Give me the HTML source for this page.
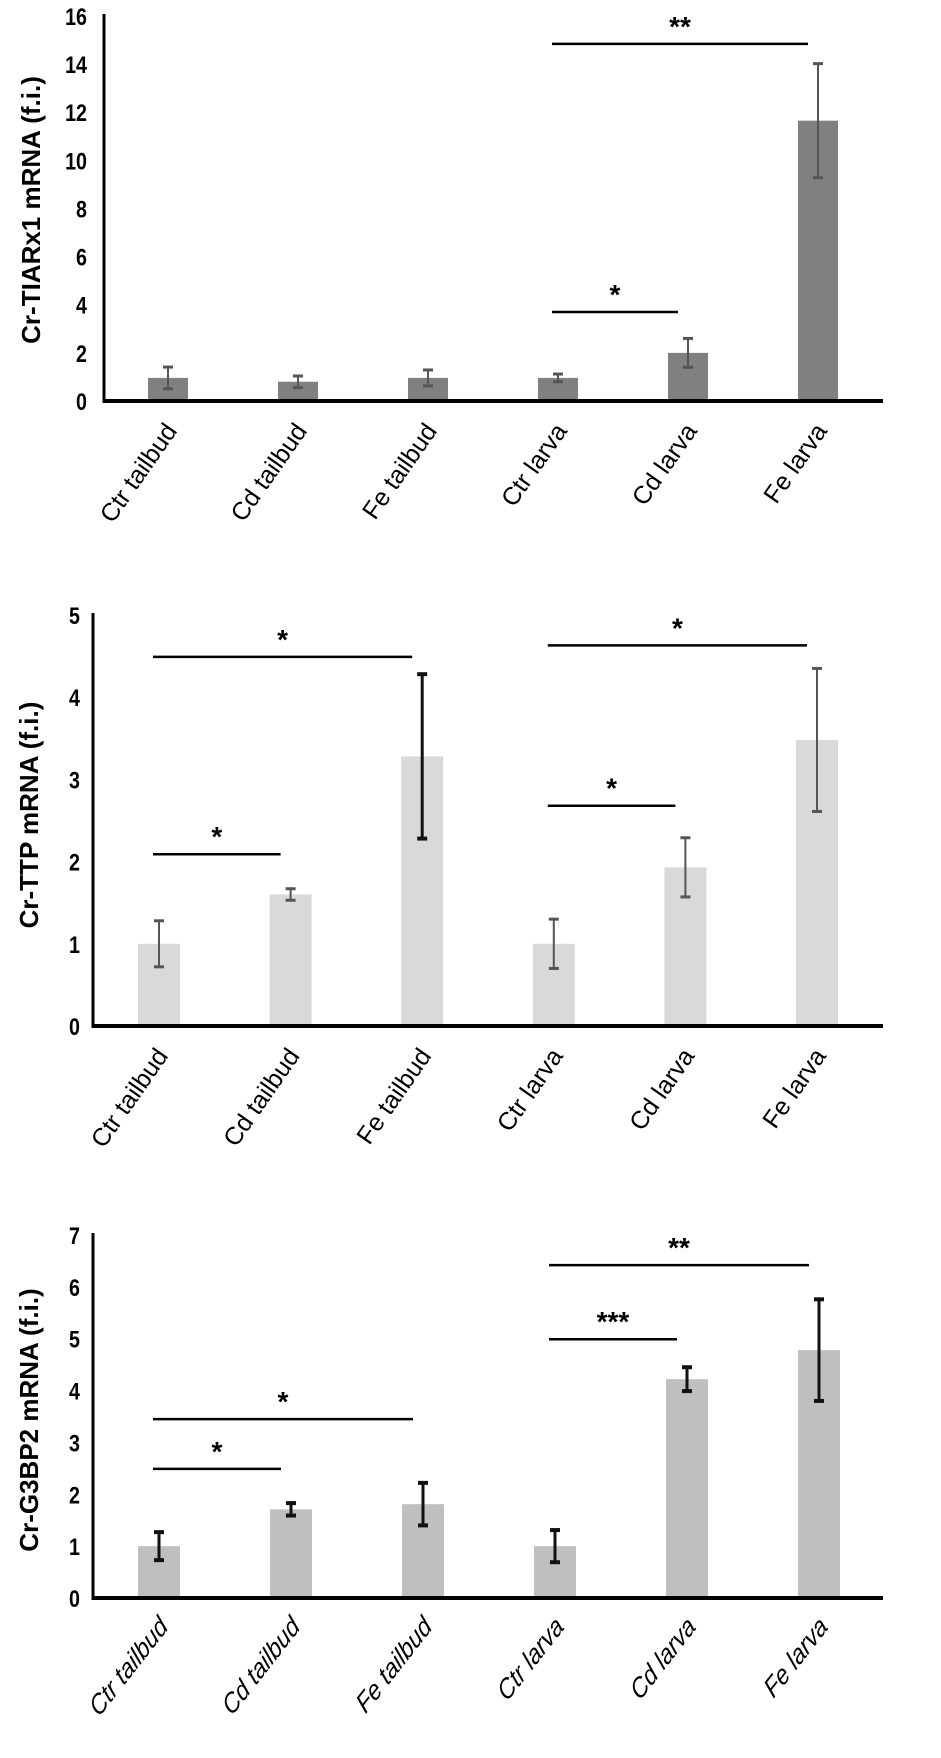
<!DOCTYPE html>
<html><head><meta charset="utf-8"><style>
html,body{margin:0;padding:0;background:#fff;}
svg{display:block;}
text{font-family:"Liberation Sans",sans-serif;}
.tick{font-weight:bold;font-size:24px;}
.ytitle{font-weight:bold;font-size:26px;}
.xl{font-size:25px;}
.star{font-size:28px;font-weight:bold;}
</style></head><body>
<svg id="chart" width="941" height="1758" viewBox="0 0 941 1758" xmlns="http://www.w3.org/2000/svg"></svg>
<script>
const categories = ["Ctr tailbud","Cd tailbud","Fe tailbud","Ctr larva","Cd larva","Fe larva"];
const tiarValues = [0.96, 0.8, 0.96, 0.96, 2.0, 11.65];
const tiarErrors = [0.45, 0.24, 0.33, 0.16, 0.6, 2.37];
const tiarTicks = [0,2,4,6,8,10,12,14,16];
const tiarSig = [[3,5,14.84,"**"],[3,4,3.7,"*"]];
const ttpValues = [1.0, 1.6, 3.28, 1.0, 1.93, 3.48];
const ttpErrors = [0.28, 0.07, 1.0, 0.3, 0.36, 0.87];
const ttpTicks = [0,1,2,3,4,5];
const ttpSig = [[0,2,4.49,"*"],[0,1,2.09,"*"],[3,5,4.63,"*"],[3,4,2.68,"*"]];
const g3Values = [1.0, 1.71, 1.81, 1.0, 4.22, 4.78];
const g3Errors = [0.27, 0.12, 0.41, 0.31, 0.23, 0.98];
const g3Ticks = [0,1,2,3,4,5,6,7];
const g3Sig = [[0,2,3.45,"*"],[0,1,2.49,"*"],[3,5,6.42,"**"],[3,4,4.99,"***"]];

const NS="http://www.w3.org/2000/svg";
const svg=document.getElementById('chart');
function mk(tag,attrs,parent){const e=document.createElementNS(NS,tag);for(const k in attrs)e.setAttribute(k,attrs[k]);(parent||svg).appendChild(e);return e;}

function drawPanel(p){
  const g=mk('g',{});
  
  
  const y=v=>p.y0-(v/p.max)*(p.y0-p.yTop);
  const x=i=>p.x0+i*p.step;
  p.values.forEach((v,i)=>{
    const r=mk('rect',{x:x(i)-p.bw/2,y:y(v),width:p.bw,height:p.y0-y(v),fill:p.color},g);
    
    
  });
  p.values.forEach((v,i)=>{
    const e=p.errors[i];
    const thick=p.thickErr.includes(i);
    const col=thick?'#111':'#555';
    const sw=thick?3:2;
    const eg=mk('g',{stroke:col,'stroke-width':sw},g);
    
    
    mk('line',{x1:x(i),x2:x(i),y1:y(v+e),y2:y(v-e)},eg);
    mk('line',{x1:x(i)-5,x2:x(i)+5,y1:y(v+e),y2:y(v+e),'stroke-width':thick?4:3},eg);
    mk('line',{x1:x(i)-5,x2:x(i)+5,y1:y(v-e),y2:y(v-e),'stroke-width':thick?4:3},eg);
  });
  const ya=mk('line',{x1:p.axX,x2:p.axX,y1:p.yTop-2,y2:p.y0+2,stroke:'#000','stroke-width':3},g);
  
  
  const xa=mk('line',{x1:p.axX-1,x2:883,y1:p.y0,y2:p.y0,stroke:'#000','stroke-width':4},g);
  
  
  p.ticks.forEach(t=>{
    const tx=mk('text',{x:p.tickX,y:y(t)+9,'text-anchor':'end',class:'tick',transform:`translate(${p.tickX},0) scale(0.82,1) translate(${-p.tickX},0)`},g);
    tx.textContent=t;
    
    
  });
  const tt=mk('text',{x:0,y:0,'text-anchor':'middle',class:'ytitle',transform:`translate(${p.titleX},${p.titleY}) rotate(-90)`},g);
  tt.textContent=p.title;
  
  
  categories.forEach((c,i)=>{
    const ax=x(i)+10, ay=p.y0+30;
    const t=mk('text',{x:0,y:0,'text-anchor':'end',class:'xl',transform:`translate(${ax},${ay}) rotate(${p.rot})`+(p.italic?' skewX(-12)':''),'font-style':p.italic?'italic':'normal'},g);
    t.textContent=c;
    
    
  });
  p.sig.forEach(s=>{
    const x1=x(s[0])-6, x2=x(s[1])-10, yy=y(s[2]);
    const l=mk('line',{x1:x1,x2:x2,y1:yy,y2:yy,stroke:'#000','stroke-width':2.5},g);
    
    
    const st=mk('text',{x:(x1+x2)/2,y:yy-8,'text-anchor':'middle',class:'star'},g);
    st.textContent=s[3];
    
    
  });
}
drawPanel({name:'tiarx1-chart',values:tiarValues,errors:tiarErrors,ticks:tiarTicks,sig:tiarSig,max:16,
  y0:401,yTop:16,x0:168,step:130,bw:40,axX:104,tickX:87,color:'#808080',thickErr:[],
  title:'Cr-TIARx1 mRNA (f.i.)',titleX:40,titleY:210,rot:-55,italic:false});
drawPanel({name:'ttp-chart',values:ttpValues,errors:ttpErrors,ticks:ttpTicks,sig:ttpSig,max:5,
  y0:1026,yTop:615,x0:159,step:131.6,bw:42,axX:93,tickX:80,color:'#d9d9d9',thickErr:[2],
  title:'Cr-TTP mRNA (f.i.)',titleX:38,titleY:815,rot:-55,italic:false});
drawPanel({name:'g3bp2-chart',values:g3Values,errors:g3Errors,ticks:g3Ticks,sig:g3Sig,max:7,
  y0:1598,yTop:1235,x0:159,step:132,bw:42,axX:93,tickX:80,color:'#bfbfbf',thickErr:[0,1,2,3,4,5],
  title:'Cr-G3BP2 mRNA (f.i.)',titleX:38,titleY:1420,rot:-52,italic:true});
</script>
</body></html>
